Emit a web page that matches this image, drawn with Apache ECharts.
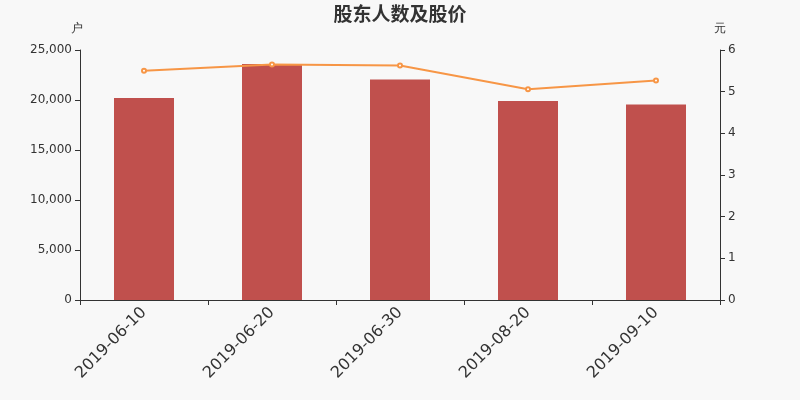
<!DOCTYPE html>
<html><head><meta charset="utf-8">
<script src="https://cdn.jsdelivr.net/npm/echarts@6/dist/echarts.min.js"></script>
<style>html,body{margin:0;padding:0;background:#f8f8f8}#c{width:800px;height:400px}</style>
</head><body><div id="c"></div>
<script>
const categories = ['2019-06-10','2019-06-20','2019-06-30','2019-08-20','2019-09-10'];
const holders = [20200, 23600, 22050, 19900, 19550];
const prices = [5.50, 5.65, 5.63, 5.06, 5.27];
const chart = echarts.init(document.getElementById('c'));
chart.setOption({
  backgroundColor: '#f8f8f8',
  animation: false,
  textStyle: { fontFamily: 'DejaVu Sans' },
  title: { text: '股东人数及股价', left: 'center', top: 2, textStyle: { fontSize: 19, fontWeight: 'bold', color: '#333', fontFamily: 'DejaVu Sans, Noto Sans CJK SC' } },
  grid: { left: 80, right: 80, top: 50, bottom: 100 },
  xAxis: {
    type: 'category', data: categories,
    axisLine: { lineStyle: { color: '#333' } },
    axisTick: { show: true, lineStyle: { color: '#333' } },
    axisLabel: { rotate: 45, fontSize: 16, color: '#333', margin: 10 }
  },
  yAxis: [
    { type: 'value', name: '户', min: 0, max: 25000, interval: 5000,
      nameTextStyle: { color: '#333', fontSize: 12, padding: [0, 6, 0, 0] },
      splitLine: { show: false },
      axisLine: { show: true, lineStyle: { color: '#333' } },
      axisTick: { show: true },
      axisLabel: { color: '#333', fontSize: 12, formatter: v => v.toLocaleString('en-US') } },
    { type: 'value', name: '元', min: 0, max: 6, interval: 1,
      nameTextStyle: { color: '#333', fontSize: 12 },
      splitLine: { show: false },
      axisLine: { show: true, lineStyle: { color: '#333' } },
      axisTick: { show: true },
      axisLabel: { color: '#333', fontSize: 12 } }
  ],
  series: [
    { type: 'bar', data: holders, barWidth: 60, itemStyle: { color: '#c0504d' } },
    { type: 'line', yAxisIndex: 1, data: prices, symbol: 'emptyCircle', symbolSize: 4,
      lineStyle: { color: '#f79646', width: 2 }, itemStyle: { color: '#f79646' } }
  ]
});
</script></body></html>
